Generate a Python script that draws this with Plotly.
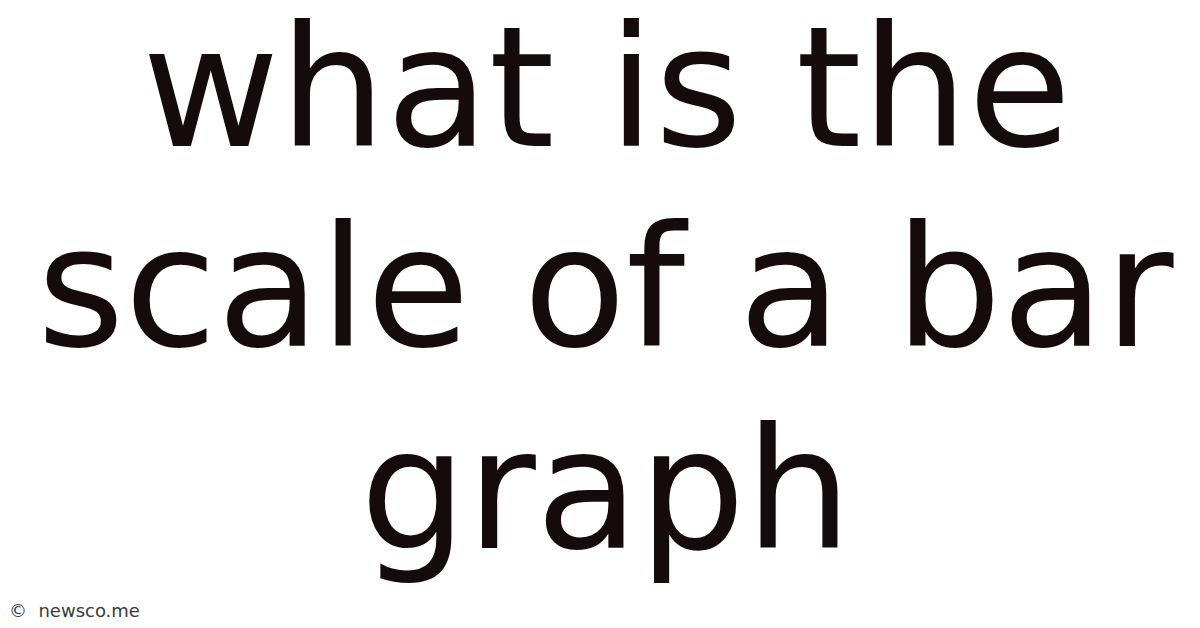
import plotly.graph_objects as go

# --- Text content ---
title_lines = ["what is the", "scale of a bar", "graph"]
line_centers_px = [80, 280, 482]  # vertical centre of each line (px from top)
watermark = "©  newsco.me"

W, H = 1200, 628
TEXT_COLOR = "#150b0d"

fig = go.Figure()

annotations = []
for line, yc in zip(title_lines, line_centers_px):
    annotations.append(dict(
        text=line,
        x=598 / W, y=1 - yc / H,
        xref="paper", yref="paper",
        xanchor="center", yanchor="middle",
        showarrow=False,
        font=dict(family="DejaVu Sans", size=168, color=TEXT_COLOR),
    ))

annotations.append(dict(
    text=watermark,
    x=0, y=1 - 602 / H,
    xref="paper", yref="paper",
    xanchor="left", yanchor="middle",
    showarrow=False,
    borderpad=0,
    xshift=0,
    font=dict(family="DejaVu Sans", size=18, color="#3a3a3a"),
))

fig.update_layout(
    width=W, height=H,
    margin=dict(l=0, r=0, t=0, b=0),
    paper_bgcolor="white",
    plot_bgcolor="white",
    xaxis=dict(visible=False, range=[0, 1]),
    yaxis=dict(visible=False, range=[0, 1]),
    annotations=annotations,
    showlegend=False,
)

fig.write_html("out.html")
